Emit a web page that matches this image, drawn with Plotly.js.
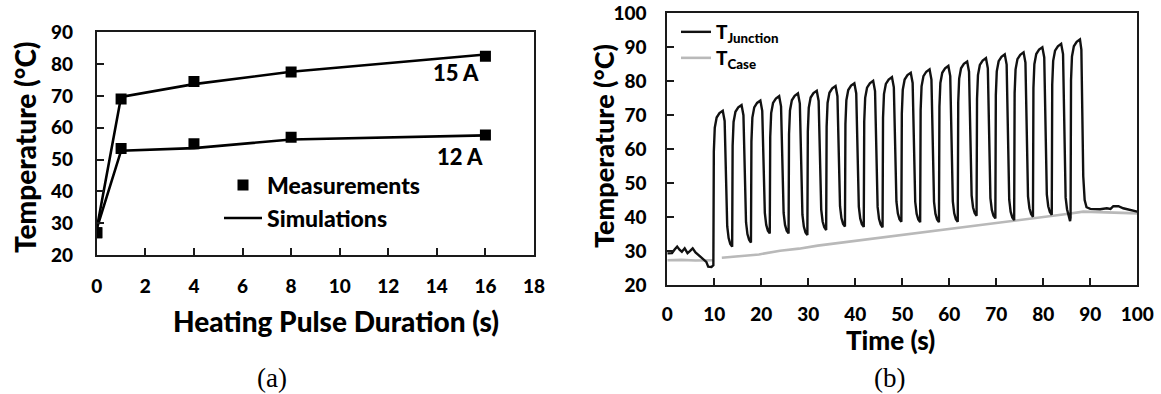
<!DOCTYPE html>
<html>
<head>
<meta charset="utf-8">
<script src="https://cdn.plot.ly/plotly-3.0.1.min.js"></script>
<style>html,body{margin:0;padding:0;background:#fff;}#chart{width:1161px;height:394px;}</style>
</head>
<body>
<div id="chart"></div>
<script>
// ---------- Panel (a) data ----------
const pulseDuration = [0, 1, 4, 8, 16];
const meas15A = [27, 69, 74.5, 77.5, 82.5];
const meas12A = [27, 53.5, 55, 57, 57.7];
const sim15A = [28.3, 69.7, 73.7, 77.6, 83.0];
const sim12A = [28.3, 52.8, 53.6, 56.3, 57.6];
const xTicksA = [0, 2, 4, 6, 8, 10, 12, 14, 16, 18];
const yTicksA = [20, 30, 40, 50, 60, 70, 80, 90];

// ---------- Panel (b) data ----------
const junctionTime = [
  0, 1.0, 1.6, 2.1, 2.6, 3.1, 3.7, 4.3, 4.8, 5.4, 6.0, 6.6, 7.2, 7.7, 8.3, 8.7, 9.4,
  9.8, 9.9, 10.1, 10.5, 11.1, 11.8, 12.2, 12.75, 13.05, 13.4,
  13.8, 13.9, 14.1, 14.5, 15.1, 15.8, 16.2, 16.75, 17.05, 17.4,
  17.8, 17.9, 18.1, 18.5, 19.1, 19.8, 20.2, 20.75, 21.05, 21.4,
  21.8, 21.9, 22.1, 22.5, 23.1, 23.8, 24.2, 24.75, 25.05, 25.4,
  25.8, 25.9, 26.1, 26.5, 27.1, 27.8, 28.2, 28.75, 29.05, 29.4,
  29.8, 29.9, 30.1, 30.5, 31.1, 31.8, 32.2, 32.75, 33.05, 33.4,
  33.8, 33.9, 34.1, 34.5, 35.1, 35.8, 36.2, 36.75, 37.05, 37.4,
  37.8, 37.9, 38.1, 38.5, 39.1, 39.8, 40.2, 40.75, 41.05, 41.4,
  41.8, 41.9, 42.1, 42.5, 43.1, 43.8, 44.2, 44.75, 45.05, 45.4,
  45.8, 45.9, 46.1, 46.5, 47.1, 47.8, 48.2, 48.75, 49.05, 49.4,
  49.8, 49.9, 50.1, 50.5, 51.1, 51.8, 52.2, 52.75, 53.05, 53.4,
  53.8, 53.9, 54.1, 54.5, 55.1, 55.8, 56.2, 56.75, 57.05, 57.4,
  57.8, 57.9, 58.1, 58.5, 59.1, 59.8, 60.2, 60.75, 61.05, 61.4,
  61.8, 61.9, 62.1, 62.5, 63.1, 63.8, 64.2, 64.75, 65.05, 65.4,
  65.8, 65.9, 66.1, 66.5, 67.1, 67.8, 68.2, 68.75, 69.05, 69.4,
  69.8, 69.9, 70.1, 70.5, 71.1, 71.8, 72.2, 72.75, 73.05, 73.4,
  73.8, 73.9, 74.1, 74.5, 75.1, 75.8, 76.2, 76.75, 77.05, 77.4,
  77.8, 77.9, 78.1, 78.5, 79.1, 79.8, 80.2, 80.75, 81.05, 81.4,
  81.8, 81.9, 82.1, 82.5, 83.1, 83.8, 84.2, 84.75, 85.05, 85.4, 85.7,
  85.8, 85.9, 86.1, 86.5, 87.1, 87.8, 88.1, 88.5, 88.8, 89.2,
  90.0, 90.7, 92.1, 93.5, 94.3, 94.9, 96.0, 97.0, 98.1, 99.2, 100
];
const junctionTemp = [
  29.3, 29.4, 30.5, 31.3, 30.4, 29.8, 30.8, 29.4, 30.0, 30.8, 29.6, 28.9, 28.2, 27.6, 26.8, 25.4, 25.3,
  25.8, 59.3, 66.3, 69.3, 70.6, 71.3, 68.3, 37.3, 33.8, 32.1,
  31.3, 61.0, 68.0, 71.0, 72.3, 73.0, 70.0, 38.5, 35.0, 33.3,
  32.5, 62.3, 69.3, 72.3, 73.6, 74.3, 71.3, 41.2, 37.7, 36.0,
  35.2, 63.6, 70.6, 73.6, 74.9, 75.6, 72.6, 41.2, 37.7, 36.0,
  35.2, 64.4, 71.4, 74.4, 75.7, 76.4, 73.4, 40.7, 37.2, 35.5,
  34.7, 65.2, 72.2, 75.2, 76.5, 77.2, 74.2, 42.2, 38.7, 37.0,
  36.2, 66.6, 73.6, 76.6, 77.9, 78.6, 75.6, 43.2, 39.7, 38.0,
  37.2, 67.4, 74.4, 77.4, 78.7, 79.4, 76.4, 43.1, 39.6, 37.9,
  37.1, 68.1, 75.1, 78.1, 79.4, 80.1, 77.1, 43.0, 39.5, 37.8,
  37.0, 69.2, 76.2, 79.2, 80.5, 81.2, 78.2, 44.6, 41.1, 39.4,
  38.6, 70.5, 77.5, 80.5, 81.8, 82.5, 79.5, 44.5, 41.0, 39.3,
  38.5, 71.5, 78.5, 81.5, 82.8, 83.5, 80.5, 44.5, 41.0, 39.3,
  38.5, 72.5, 79.5, 82.5, 83.8, 84.5, 81.5, 44.6, 41.1, 39.4,
  38.6, 73.8, 80.8, 83.8, 85.1, 85.8, 82.8, 46.4, 42.9, 41.2,
  40.4, 74.8, 81.8, 84.8, 86.1, 86.8, 83.8, 45.6, 42.1, 40.4,
  39.6, 75.9, 82.9, 85.9, 87.2, 87.9, 84.9, 45.1, 41.6, 39.9,
  39.1, 76.5, 83.5, 86.5, 87.8, 88.5, 85.5, 46.1, 42.6, 40.9,
  40.1, 78.0, 85.0, 88.0, 89.3, 90.0, 87.0, 46.7, 43.2, 41.5,
  40.7, 79.0, 86.0, 89.0, 90.3, 91.0, 88.0, 45.8, 42.3, 40.6, 38.8,
  39.8, 80.3, 87.3, 90.3, 91.6, 92.3, 89.3, 52.0, 45.0, 42.9,
  42.4, 42.3, 42.3, 42.6, 42.4, 43.2, 43.2, 42.6, 42.3, 41.8, 41.6
];
const caseTime = [0, 3, 6, 9.8, null, 11.6, 15, 19.5, 24, 28, 32, 36, 40, 45, 50, 55, 60, 65, 70, 75, 80, 85, 88.5, 92, 96, 100];
const caseTemp = [27.3, 27.4, 27.2, 27.3, null, 28.0, 28.4, 29.0, 30.1, 30.7, 31.6, 32.3, 33.0, 33.8, 34.7, 35.5, 36.4, 37.3, 38.3, 39.2, 40.0, 40.9, 41.6, 41.4, 41.3, 41.1];
const xTicksB = [0, 10, 20, 30, 40, 50, 60, 70, 80, 90, 100];
const yTicksB = [20, 30, 40, 50, 60, 70, 80, 90, 100];

// ---------- layout helpers ----------
const W = 1161, H = 394;
const px = v => v / W;
const py = v => 1 - v / H;
const FONT = 'Lato, "Open Sans", sans-serif';
const WEIGHT = 900;
const AX = '#1a1a1a';

const traces = [
  {x: pulseDuration, y: sim15A, xaxis: 'x', yaxis: 'y', mode: 'lines', name: 'Simulations',
   line: {color: '#000', width: 2.6}, showlegend: true, legend: 'legend2'},
  {x: pulseDuration, y: sim12A, xaxis: 'x', yaxis: 'y', mode: 'lines', name: 'Simulations 12 A',
   line: {color: '#000', width: 2.6}, showlegend: false},
  {x: pulseDuration, y: meas15A, xaxis: 'x', yaxis: 'y', mode: 'markers', name: 'Measurements',
   marker: {symbol: 'square', size: 11, color: '#000'}, showlegend: true, legend: 'legend'},
  {x: pulseDuration, y: meas12A, xaxis: 'x', yaxis: 'y', mode: 'markers', name: 'Measurements 12 A',
   marker: {symbol: 'square', size: 11, color: '#000'}, showlegend: false},
  {x: caseTime, y: caseTemp, xaxis: 'x2', yaxis: 'y2', mode: 'lines', name: 'T<sub>Case</sub>',
   line: {color: '#b9b9b9', width: 2.6}, connectgaps: false, showlegend: true, legend: 'legend4'},
  {x: junctionTime, y: junctionTemp, xaxis: 'x2', yaxis: 'y2', mode: 'lines', name: 'T<sub>Junction</sub>',
   line: {color: '#111', width: 2.4}, showlegend: true, legend: 'legend3'}
];

const tickFont = {family: FONT, size: 19, color: '#000', weight: WEIGHT};
function axis(extra) {
  return Object.assign({
    showgrid: false, zeroline: false, showline: true, linecolor: AX, linewidth: 2,
    mirror: true, ticks: 'inside', ticklen: 7, tickwidth: 2, tickcolor: AX,
    tickfont: tickFont, fixedrange: true
  }, extra);
}
function legendAt(x, y, size, iw) {
  return {x: px(x), y: py(y), xanchor: 'left', yanchor: 'middle', bgcolor: 'rgba(0,0,0,0)',
          borderwidth: 0, itemwidth: iw,
          font: {family: FONT, size: size, color: '#000', weight: WEIGHT}};
}
function txt(text, x, y, size, extra) {
  return Object.assign({text: text, xref: 'paper', yref: 'paper', x: px(x), y: py(y),
    xanchor: 'center', yanchor: 'middle', showarrow: false,
    font: {family: FONT, size: size, color: '#000', weight: WEIGHT}}, extra || {});
}
const serif = {family: '"Liberation Serif", "Times New Roman", serif', size: 27, color: '#000'};

const layout = {
  width: W, height: H,
  margin: {l: 0, r: 0, t: 0, b: 0},
  paper_bgcolor: '#fff', plot_bgcolor: '#fff',
  showlegend: true,
  xaxis: axis({domain: [px(96.8), px(534)], range: [0, 18], tickvals: xTicksA, anchor: 'y', ticklabelstandoff: 13}),
  yaxis: axis({domain: [py(255), py(32.3)], range: [20, 90], tickvals: yTicksA, anchor: 'x', ticklabelstandoff: 18}),
  xaxis2: axis({domain: [px(667.3), px(1137.3)], range: [0, 100], tickvals: xTicksB, anchor: 'y2', ticklabelstandoff: 11}),
  yaxis2: axis({domain: [py(285), py(13.3)], range: [20, 100], tickvals: yTicksB, anchor: 'x2', ticklabelstandoff: 15}),
  legend: legendAt(219, 185, 23, 38),
  legend2: legendAt(219, 218, 23, 38),
  legend3: legendAt(676, 32, 19, 30),
  legend4: legendAt(676, 58, 19, 30),
  annotations: [
    txt('Heating Pulse Duration (s)', 336, 321, 28),
    txt('Temperature (°C)', 25, 147, 28, {textangle: -90}),
    {text: '15 A', xref: 'x', yref: 'y', x: 14.8, y: 77.4, showarrow: false,
     xanchor: 'center', yanchor: 'middle', font: {family: FONT, size: 22, color: '#000', weight: WEIGHT}},
    {text: '12 A', xref: 'x', yref: 'y', x: 14.95, y: 51.1, showarrow: false,
     xanchor: 'center', yanchor: 'middle', font: {family: FONT, size: 22, color: '#000', weight: WEIGHT}},
    txt('Temperature (°C)', 603, 146, 27, {textangle: -90}),
    txt('Time (s)', 890, 340, 26),
    txt('(a)', 272, 378, 0, {font: serif}),
    txt('(b)', 889, 378, 0, {font: serif})
  ]
};

Plotly.newPlot('chart', traces, layout, {displayModeBar: false, staticPlot: true});
</script>
</body>
</html>
